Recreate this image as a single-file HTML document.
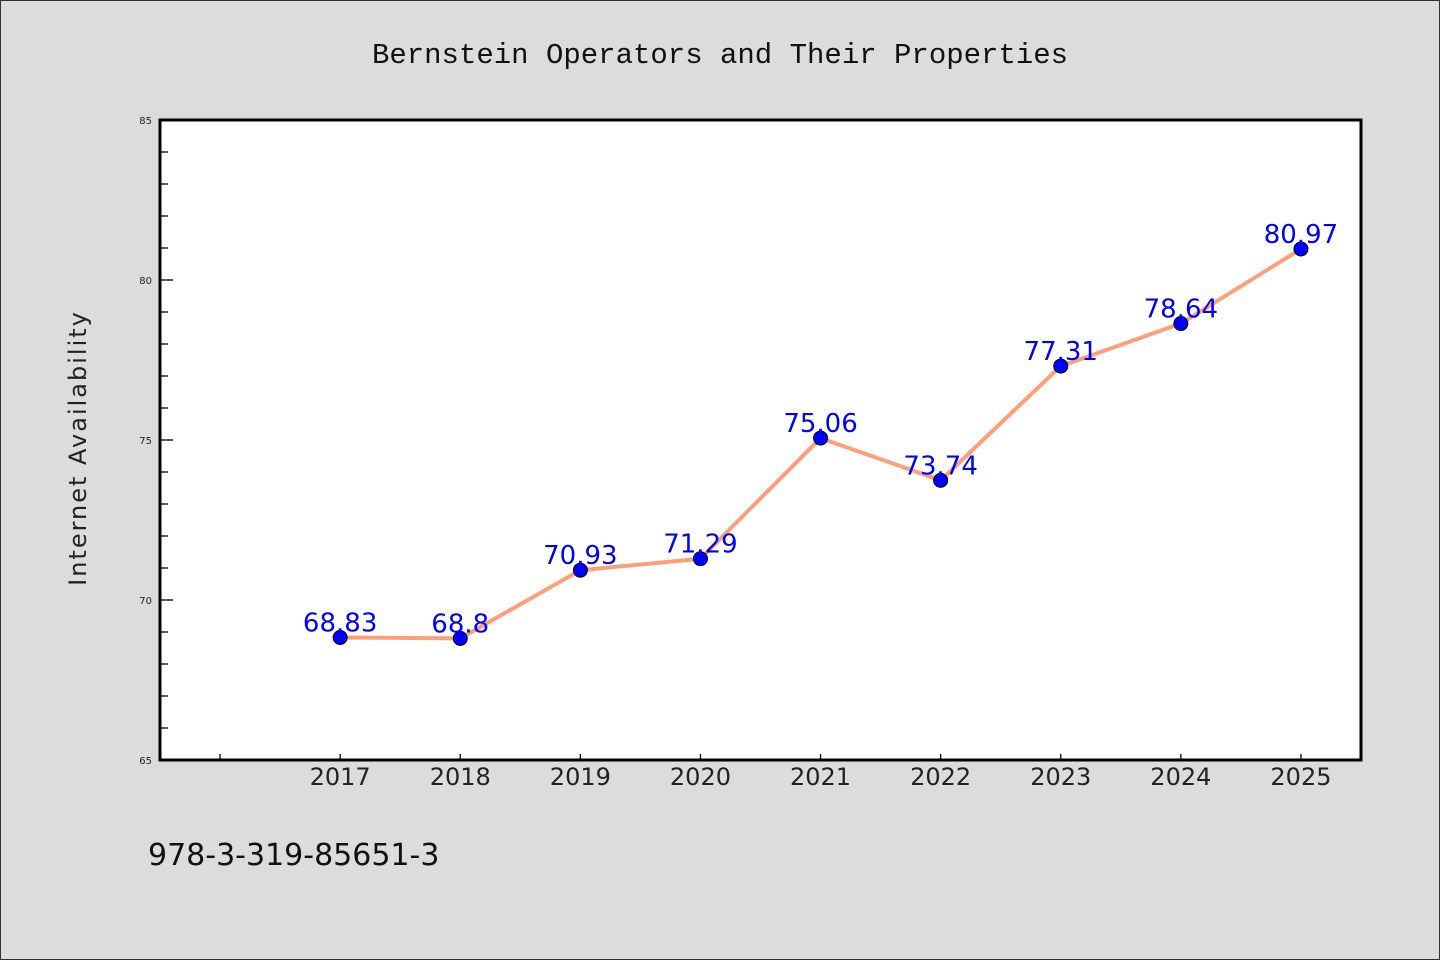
<!DOCTYPE html>
<html><head><meta charset="utf-8"><style>
html,body{margin:0;padding:0;background:#dcdcdc;}
svg{display:block;font-family:"Liberation Mono","DejaVu Sans Mono",monospace;}
</style></head><body>
<svg id="chart" width="1440" height="960" xmlns="http://www.w3.org/2000/svg">
<rect x="0.5" y="0.5" width="1439" height="959" fill="#dcdcdc" stroke="#333"/>
<text x="720" y="63" text-anchor="middle" font-size="29" fill="#111">Bernstein Operators and Their Properties</text>
<rect x="160" y="120" width="1201" height="640" fill="#fff"/>
<g id="axes"></g>
<g id="marks"></g>
<rect x="160" y="120" width="1201" height="640" fill="none" stroke="#000" stroke-width="3"/>
<text transform="translate(86,448) rotate(-90)" text-anchor="middle" font-size="24" fill="#222" font-family="DejaVu Sans, sans-serif" letter-spacing="2">Internet Availability</text>
<text x="148" y="865" font-size="30" fill="#111" font-family="DejaVu Sans, sans-serif">978-3-319-85651-3</text>
</svg>
<script>
const categories = ["2017","2018","2019","2020","2021","2022","2023","2024","2025"];
const values = [68.83,68.8,70.93,71.29,75.06,73.74,77.31,78.64,80.97];
const labels = ["68.83","68.8","70.93","71.29","75.06","73.74","77.31","78.64","80.97"];
const yTicks = [65,70,75,80,85];
const NS="http://www.w3.org/2000/svg";
const x0=160,x1=1361,y0=120,y1=760,yMin=65,yMax=85;
const xLo=2015.5,xHi=2025.5;
function xs(v){return x0+(v-xLo)/(xHi-xLo)*(x1-x0);}
function ys(v){return y1-(v-yMin)/(yMax-yMin)*(y1-y0);}
function mk(t,a,p){const e=document.createElementNS(NS,t);for(const k in a)e.setAttribute(k,a[k]);p.appendChild(e);return e;}
const axes=document.getElementById('axes'),marks=document.getElementById('marks');
for(let v=yMin;v<=yMax;v++){
  const major=yTicks.includes(v);
  const l=mk('line',{x1:x0,x2:x0+(major?13:8),y1:ys(v),y2:ys(v),stroke:'#000','stroke-width':1.3},axes);
  
  
}
yTicks.forEach(v=>{
  const t=mk('text',{x:x0-8,y:ys(v)+4,'text-anchor':'end','font-size':10,fill:'#222','font-family':'DejaVu Sans, sans-serif'},axes);
  t.textContent=v;
  
  
});
const tk=mk('line',{x1:xs(2016),x2:xs(2016),y1:y1,y2:y1-6,stroke:'#000','stroke-width':1.3},axes);


categories.forEach(c=>{
  const X=xs(+c);
  const l=mk('line',{x1:X,x2:X,y1:y1,y2:y1-6,stroke:'#000','stroke-width':1.3},axes);
  
  
  const t=mk('text',{x:X,y:785,'text-anchor':'middle','font-size':24,fill:'#222','font-family':'DejaVu Sans, sans-serif'},axes);
  t.textContent=c;
  
  
});
const pts=categories.map((c,i)=>xs(+c)+','+ys(values[i])).join(' ');
const line=mk('polyline',{points:pts,fill:'none',stroke:'#ff9f7a','stroke-width':4,'stroke-linejoin':'round'},marks);


categories.forEach((c,i)=>{
  const X=xs(+c),Y=ys(values[i]);
  const p=mk('circle',{cx:X,cy:Y,r:7,fill:'#0000ff',stroke:'#000','stroke-width':1},marks);
  
  
  const t=mk('text',{x:X,y:Y-6,'text-anchor':'middle','font-size':26,fill:'#0000ff','font-family':'DejaVu Sans, sans-serif'},marks);
  t.textContent=labels[i];
  
  
});
</script>
</body></html>
